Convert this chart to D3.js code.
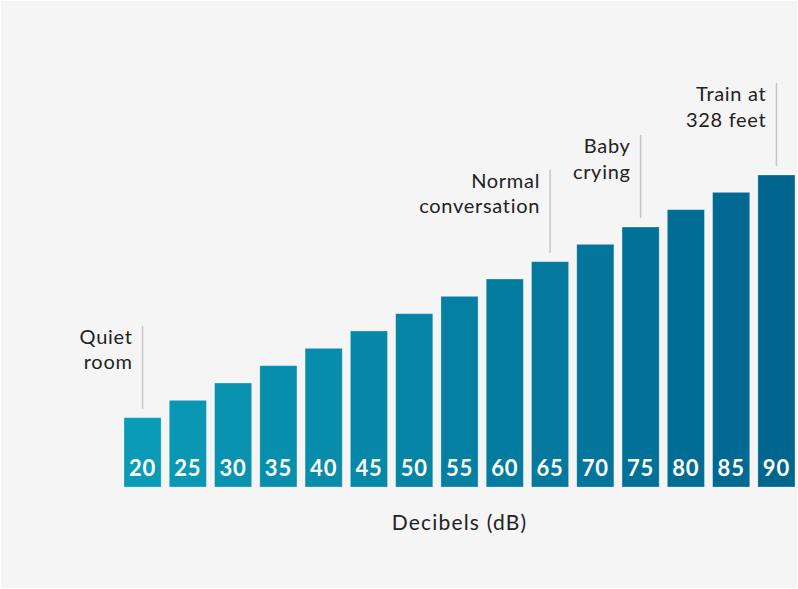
<!DOCTYPE html>
<html>
<head>
<meta charset="utf-8">
<script src="https://cdn.jsdelivr.net/npm/d3@7"></script>
<style>
  body { margin: 0; background: #ffffff; }
  svg { display: block; }
</style>
</head>
<body>
<div id="chart"></div>
<script>
// Sound levels in decibels, one bar per level
const levels = [20, 25, 30, 35, 40, 45, 50, 55, 60, 65, 70, 75, 80, 85, 90];

// Callouts: which bar they point at and their two text lines
const notes = [
  { level: 20, lines: ["Quiet", "room"] },
  { level: 65, lines: ["Normal", "conversation"] },
  { level: 75, lines: ["Baby", "crying"] },
  { level: 90, lines: ["Train at", "328 feet"] },
];

const xTitle = "Decibels (dB)";

const width = 798;
const height = 589;
const margin = { top: 175, right: 3, bottom: 102, left: 124 };

const svg = d3.select("#chart")
  .append("svg")
  .attr("width", width)
  .attr("height", height);

// Light grey card behind the chart
svg.append("rect")
  .attr("x", 1)
  .attr("y", 1)
  .attr("width", width - 2)
  .attr("height", height - 2)
  .attr("fill", "#f5f5f5");

const innerW = width - margin.left - margin.right;
const innerH = height - margin.top - margin.bottom;

const chart = svg.append("g")
  .attr("transform", `translate(${margin.left},${margin.top})`);

const xScale = d3.scaleBand()
  .domain(levels)
  .range([0, innerW])
  .paddingInner(0.18)
  .paddingOuter(0);

const yScale = d3.scaleLinear()
  .domain([0, d3.max(levels)])
  .range([innerH, 0]);

// Teal on the left, deeper blue on the right
const colour = d3.scaleLinear()
  .domain([0, levels.length - 1])
  .range(["#0a9bb6", "#00658f"])
  .interpolate(d3.interpolateRgb);

chart.selectAll(".bar")
  .data(levels)
  .join("rect")
  .attr("class", "bar")
  .attr("x", d => xScale(d))
  .attr("y", d => yScale(d))
  .attr("width", xScale.bandwidth())
  .attr("height", d => innerH - yScale(d))
  .attr("fill", (d, i) => colour(i))
  .attr("stroke", "rgba(255,255,255,0.35)")
  .attr("stroke-width", 0.8);

// Value labels inside the foot of each bar
chart.selectAll(".bar-label")
  .data(levels)
  .join("text")
  .attr("class", "bar-label")
  .attr("x", d => xScale(d) + xScale.bandwidth() / 2)
  .attr("y", innerH - 11)
  .attr("text-anchor", "middle")
  .style("font-family", "Lato, 'Open Sans', sans-serif")
  .style("font-weight", "700")
  .style("font-size", "22px")
  .style("letter-spacing", "0.8px")
  .attr("fill", "#ffffff")
  .text(d => d);

// Callout leader lines and text
const noteGroups = chart.selectAll(".note")
  .data(notes)
  .join("g")
  .attr("class", "note");

noteGroups.append("line")
  .attr("x1", d => xScale(d.level) + xScale.bandwidth() / 2)
  .attr("x2", d => xScale(d.level) + xScale.bandwidth() / 2)
  .attr("y1", d => yScale(d.level) - 9)
  .attr("y2", d => yScale(d.level) - 92)
  .attr("stroke", "#c4c4c4")
  .attr("stroke-width", 1.5);

noteGroups.append("text")
  .attr("text-anchor", "end")
  .style("font-family", "Lato, 'Open Sans', sans-serif")
  .style("font-size", "20px")
  .style("letter-spacing", "0.7px")
  .attr("fill", "#222222")
  .selectAll("tspan")
  .data(d => d.lines.map((line, i) => ({ line, i, d })))
  .join("tspan")
  .attr("x", t => xScale(t.d.level) + xScale.bandwidth() / 2 - 10)
  .attr("y", t => yScale(t.d.level) - 74 + t.i * 25.5)
  .text(t => t.line);

// Axis title
chart.append("text")
  .attr("x", innerW / 2)
  .attr("y", innerH + 43)
  .attr("text-anchor", "middle")
  .style("font-family", "Lato, 'Open Sans', sans-serif")
  .style("font-size", "21px")
  .style("letter-spacing", "1.2px")
  .attr("fill", "#222222")
  .text(xTitle);
</script>
</body>
</html>
